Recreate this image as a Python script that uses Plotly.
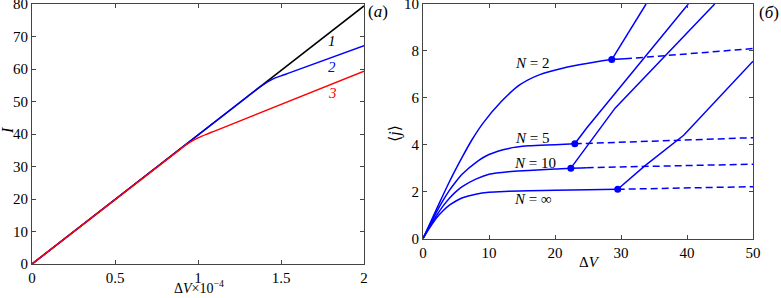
import plotly.graph_objects as go

W, H = 781, 298

# ---- Panel (a) data ----
a_x1 = [0, 2.0]
a_y1 = [0, 79.4]
a_x2 = [0, 1.3, 1.38, 1.45, 1.5, 1.55, 2.0]
a_y2 = [0, 51.6, 54.7, 56.9, 57.9, 58.8, 67.2]
a_x3 = [0, 0.9, 0.95, 1.0, 1.05, 1.1, 2.0]
a_y3 = [0, 35.6, 37.4, 38.8, 39.9, 40.9, 59.3]
a_xticks = [0, 0.5, 1, 1.5, 2]
a_xticklabels = ["0", "0.5", "1", "1.5", "2"]
a_yticks = [0, 10, 20, 30, 40, 50, 60, 70, 80]

# ---- Panel (б) data ----
n2_x = [0, 2, 4, 6, 7.4, 9.1, 11.9, 14.7, 17.7, 21.3, 24.8, 28.6, 30.6]
n2_y = [0, 1.22, 2.42, 3.5, 4.2, 4.92, 5.85, 6.56, 6.99, 7.27, 7.46, 7.63, 7.66]
n5_x = [0, 1, 2, 3, 4, 5, 6, 8, 10, 13, 16, 20, 23.0]
n5_y = [0, 0.56, 1.1, 1.6, 2.05, 2.43, 2.76, 3.24, 3.58, 3.84, 3.95, 4.0, 4.04]
n10_x = [0, 1, 2, 3, 4, 5, 6, 8, 10, 13, 16, 20, 22.4, 24.8]
n10_y = [0, 0.5, 0.96, 1.37, 1.72, 2.0, 2.22, 2.53, 2.74, 2.85, 2.9, 2.96, 3.0, 3.02]
ninf_x = [0, 1, 2, 3, 4, 5, 6, 8, 10, 13, 16, 20, 25, 29.5]
ninf_y = [0, 0.45, 0.86, 1.17, 1.42, 1.6, 1.74, 1.89, 1.97, 2.01, 2.04, 2.06, 2.08, 2.1]

# dashed continuations
n2_dx, n2_dy = [30.6, 40, 50], [7.66, 7.88, 8.1]
n5_dx, n5_dy = [23.0, 50], [4.04, 4.3]
n10_dx, n10_dy = [24.8, 50], [3.02, 3.17]
ninf_dx, ninf_dy = [29.5, 50], [2.1, 2.21]

# rising branches
b2_x, b2_y = [28.6, 33.8], [7.63, 10.0]
b5_x, b5_y = [23.0, 24.8, 40.2], [4.04, 4.71, 10.0]
b10_x, b10_y = [22.4, 29.1, 44.2], [3.0, 5.56, 10.0]
binf_x, binf_y = [29.5, 33.6, 39.5, 45.8, 50], [2.1, 3.1, 4.4, 6.3, 7.56]

# dots
dot_x = [28.6, 23.0, 22.4, 29.5]
dot_y = [7.63, 4.04, 3.0, 2.1]

b_xticks = [0, 10, 20, 30, 40, 50]
b_yticks = [0, 2, 4, 6, 8, 10]

FONT = "'Liberation Serif', 'Times New Roman', 'DejaVu Serif', serif"
BLUE = "#0000ff"

fig = go.Figure()

# panel a traces
fig.add_trace(go.Scatter(x=a_x1, y=a_y1, mode="lines", line=dict(color="black", width=1.5), xaxis="x", yaxis="y"))
fig.add_trace(go.Scatter(x=a_x2, y=a_y2, mode="lines", line=dict(color=BLUE, width=1.5, shape="spline", smoothing=0.6), xaxis="x", yaxis="y"))
fig.add_trace(go.Scatter(x=a_x3, y=a_y3, mode="lines", line=dict(color="red", width=1.5, shape="spline", smoothing=0.6), xaxis="x", yaxis="y"))

# panel b traces
for xs, ys in [(n2_x, n2_y), (n5_x, n5_y), (n10_x, n10_y), (ninf_x, ninf_y)]:
    fig.add_trace(go.Scatter(x=xs, y=ys, mode="lines",
                             line=dict(color=BLUE, width=1.5, shape="spline", smoothing=0.8),
                             xaxis="x2", yaxis="y2"))
for xs, ys in [(n2_dx, n2_dy), (n5_dx, n5_dy), (n10_dx, n10_dy), (ninf_dx, ninf_dy)]:
    fig.add_trace(go.Scatter(x=xs, y=ys, mode="lines",
                             line=dict(color=BLUE, width=1.5, dash="7px,4px"),
                             xaxis="x2", yaxis="y2"))
for xs, ys in [(b2_x, b2_y), (b5_x, b5_y), (b10_x, b10_y), (binf_x, binf_y)]:
    fig.add_trace(go.Scatter(x=xs, y=ys, mode="lines",
                             line=dict(color=BLUE, width=1.5),
                             xaxis="x2", yaxis="y2"))
fig.add_trace(go.Scatter(x=dot_x, y=dot_y, mode="markers",
                         marker=dict(color=BLUE, size=7),
                         xaxis="x2", yaxis="y2"))

axis_common = dict(showline=True, linecolor="#444", linewidth=1, mirror="ticks",
                   ticks="inside", ticklen=4, tickcolor="#444", showgrid=False,
                   zeroline=False, ticklabeloverflow="allow", automargin=False,
                   tickfont=dict(family=FONT, size=15, color="black"))

def px(x):
    return x / W

def py(y):
    return 1 - y / H

fig.update_layout(
    width=W, height=H,
    margin=dict(l=0, r=0, t=0, b=0, autoexpand=False),
    paper_bgcolor="white", plot_bgcolor="white",
    showlegend=False,
    font=dict(family=FONT),
    xaxis=dict(domain=[px(32), px(364)], range=[0, 2], tickvals=a_xticks, ticktext=a_xticklabels,
               anchor="y", **axis_common),
    yaxis=dict(domain=[py(264), py(4)], range=[0, 80], tickvals=a_yticks, anchor="x", **axis_common),
    xaxis2=dict(domain=[px(423), px(753)], range=[0, 50], tickvals=b_xticks, anchor="y2", **axis_common),
    yaxis2=dict(domain=[py(238.5), py(4)], range=[0, 10], tickvals=b_yticks, anchor="x2", **axis_common),
)

def ann(text, x, y, xref="paper", yref="paper", color="black", size=15, angle=0, xanchor="center", yanchor="middle"):
    fig.add_annotation(text=text, x=x, y=y, xref=xref, yref=yref, showarrow=False,
                       font=dict(family=FONT, size=size, color=color), textangle=angle,
                       xanchor=xanchor, yanchor=yanchor)

# panel a annotations
ann("<i>1</i>", 1.81, 68.6, "x", "y", "black")
ann("<i>2</i>", 1.81, 60.6, "x", "y", BLUE)
ann("<i>3</i>", 1.81, 52.6, "x", "y", "red")
ann("(<i>a</i>)", px(366), py(12), size=17, xanchor="left")
ann("<i>I</i>", px(7), py(131), angle=-90, size=16)
ann("Δ<i>V</i>×10<sup>−4</sup>", px(199), py(298), size=14, yanchor="bottom")

# panel b annotations
ann("<i>N</i> = 2", 16.5, 7.5, "x2", "y2")
ann("<i>N</i> = 5", 16.5, 4.28, "x2", "y2")
ann("<i>N</i> = 10", 17.0, 3.24, "x2", "y2")
ann("<i>N</i> = ∞", 16.7, 1.67, "x2", "y2")
ann("(<i>б</i>)", px(781), py(13), size=17, xanchor="right")
ann("⟨<i>j</i>⟩", px(395), py(133), angle=-90, size=16)
ann("Δ<i>V</i>", px(589), py(262), size=15)

fig.write_html("out.html", config={"displayModeBar": False},
               post_script="document.body.style.margin='0px';document.body.style.overflow='hidden';")
